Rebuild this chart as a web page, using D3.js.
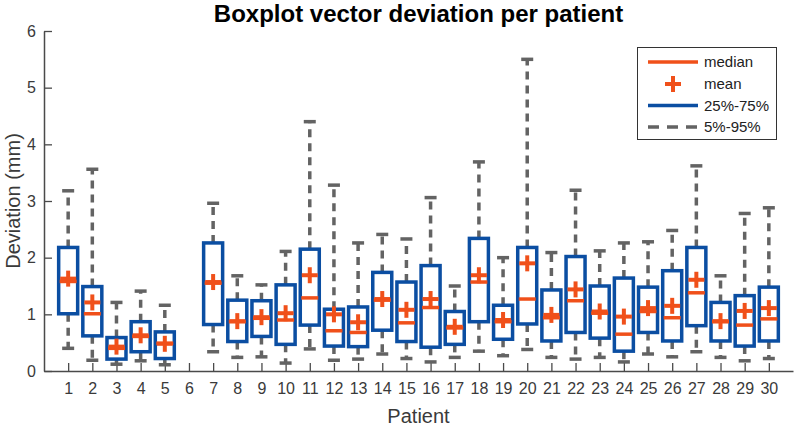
<!DOCTYPE html>
<html>
<head>
<meta charset="utf-8">
<script src="https://cdn.jsdelivr.net/npm/d3@7"></script>
<style>
  html, body { margin: 0; padding: 0; background: #fff; }
  svg { display: block; font-family: "Liberation Sans", Arial, Helvetica, sans-serif; }
</style>
</head>
<body>
<svg id="chart" width="794" height="430"></svg>
<script>
// ---- Data ----
const patients = d3.range(1, 31);
const p5     = [0.40,0.19,0.12,0.18,0.11,null,0.34,0.24,0.25,0.14,0.39,0.19,0.21,0.30,0.22,0.16,0.24,0.35,0.27,0.38,0.24,0.21,0.24,0.16,0.30,0.25,0.34,0.24,0.18,0.22];
const q1     = [1.01,0.62,0.21,0.34,0.22,null,0.82,0.52,0.61,0.47,0.81,0.44,0.43,0.72,0.52,0.42,0.47,0.87,0.56,0.83,0.53,0.68,0.58,0.35,0.68,0.53,0.80,0.53,0.44,0.53];
const median = [1.58,1.01,0.40,0.61,0.49,null,1.55,0.87,0.93,0.90,1.29,0.71,0.68,1.25,0.85,1.12,0.76,1.57,0.87,1.27,0.94,1.24,1.02,0.65,1.05,0.94,1.38,0.87,0.81,0.92];
const mean   = [1.63,1.21,0.43,0.63,0.48,null,1.57,0.88,0.95,1.02,1.69,1.00,0.86,1.27,1.08,1.27,0.78,1.69,0.90,1.90,0.99,1.44,1.05,0.96,1.11,1.15,1.61,0.88,1.06,1.11];
const q3     = [2.18,1.49,0.59,0.87,0.69,null,2.26,1.25,1.24,1.52,2.15,1.09,1.13,1.74,1.57,1.86,1.05,2.34,1.16,2.18,1.43,2.02,1.50,1.64,1.48,1.77,2.18,1.21,1.33,1.48];
const p95    = [3.18,3.56,1.21,1.41,1.16,null,2.96,1.68,1.52,2.11,4.40,3.28,2.26,2.41,2.33,3.06,1.50,3.69,2.00,5.50,2.09,3.19,2.12,2.26,2.28,2.48,3.62,1.68,2.78,2.88];
const yTicks = [0,1,2,3,4,5,6];
const legendLabels = ["median","mean","25%-75%","5%-95%"];
const titleText = "Boxplot vector deviation per patient";
const xLabel = "Patient";
const yLabel = "Deviation (mm)";

// ---- Styles ----
const ORANGE = "#f0501a", BLUE = "#0b4ea2", GRAY = "#636363", AXIS = "#4a4a4a", TXT = "#3a3a3a";

const svg = d3.select("#chart");
const x = d3.scaleLinear().domain([0, 31]).range([44, 793]);
const y = d3.scaleLinear().domain([0, 6]).range([371, 31]);

const rows = patients.map((p, i) => ({p, p5: p5[i], q1: q1[i], med: median[i], mean: mean[i], q3: q3[i], p95: p95[i]}))
  .filter(d => d.med !== null);

const boxHalf = 9.5, capHalf = 6, crossHalf = 8, medHalf = 8.5;

// axes
const xAxis = d3.axisBottom(x).tickValues(patients).tickFormat(d3.format("d")).tickSizeInner(-8).tickSizeOuter(0).tickPadding(12);
const yAxis = d3.axisLeft(y).tickValues(yTicks).tickFormat(d3.format("d")).tickSizeInner(-8).tickSizeOuter(0).tickPadding(8);

const gx = svg.append("g").attr("transform", `translate(0,${y(0)})`).call(xAxis);
const gy = svg.append("g").attr("transform", `translate(${x(0)},0)`).call(yAxis);
[gx, gy].forEach(g => {
  g.select(".domain").attr("stroke", AXIS).attr("stroke-width", 1.5);
  g.selectAll(".tick line").attr("stroke", AXIS).attr("stroke-width", 1.3);
  g.selectAll(".tick text").attr("fill", TXT).style("font-size", "16px").style("font-family", "'Liberation Sans', Arial, sans-serif");
});

const marks = svg.append("g");
// whiskers (dashed)
marks.selectAll(".wup").data(rows).join("line")
  .attr("x1", d => x(d.p)).attr("x2", d => x(d.p))
  .attr("y1", d => y(d.q3)).attr("y2", d => y(d.p95))
  .attr("stroke", GRAY).attr("stroke-width", 3.5).attr("stroke-dasharray", "8,6");
marks.selectAll(".wdn").data(rows).join("line")
  .attr("x1", d => x(d.p)).attr("x2", d => x(d.p))
  .attr("y1", d => y(d.q1)).attr("y2", d => y(d.p5))
  .attr("stroke", GRAY).attr("stroke-width", 3.5).attr("stroke-dasharray", "8,6");
// caps
marks.selectAll(".capU").data(rows).join("line")
  .attr("x1", d => x(d.p) - capHalf).attr("x2", d => x(d.p) + capHalf)
  .attr("y1", d => y(d.p95)).attr("y2", d => y(d.p95))
  .attr("stroke", GRAY).attr("stroke-width", 3.5);
marks.selectAll(".capD").data(rows).join("line")
  .attr("x1", d => x(d.p) - capHalf).attr("x2", d => x(d.p) + capHalf)
  .attr("y1", d => y(d.p5)).attr("y2", d => y(d.p5))
  .attr("stroke", GRAY).attr("stroke-width", 3.5);
// boxes
marks.selectAll(".box").data(rows).join("rect")
  .attr("x", d => x(d.p) - boxHalf).attr("width", boxHalf * 2)
  .attr("y", d => y(d.q3)).attr("height", d => y(d.q1) - y(d.q3))
  .attr("fill", "#fff").attr("stroke", BLUE).attr("stroke-width", 3.5);
// medians
marks.selectAll(".med").data(rows).join("line")
  .attr("x1", d => x(d.p) - medHalf).attr("x2", d => x(d.p) + medHalf)
  .attr("y1", d => y(d.med)).attr("y2", d => y(d.med))
  .attr("stroke", ORANGE).attr("stroke-width", 3.5);
// means (+)
const mg = marks.selectAll(".mean").data(rows).join("g")
  .attr("transform", d => `translate(${x(d.p)},${y(d.mean)})`);
mg.append("line").attr("x1", -crossHalf).attr("x2", crossHalf).attr("y1", 0).attr("y2", 0).attr("stroke", ORANGE).attr("stroke-width", 4);
mg.append("line").attr("x1", 0).attr("x2", 0).attr("y1", -crossHalf).attr("y2", crossHalf).attr("stroke", ORANGE).attr("stroke-width", 4);

// title & labels
svg.append("text").attr("x", (x(0) + x(31)) / 2).attr("y", 22).attr("text-anchor", "middle")
  .style("font-size", "24px").style("font-weight", "bold").attr("fill", "#000").text(titleText);
svg.append("text").attr("x", (x(0) + x(31)) / 2).attr("y", 423).attr("text-anchor", "middle")
  .style("font-size", "20px").attr("fill", TXT).text(xLabel);
svg.append("text").attr("transform", `translate(20,${(y(0) + y(6)) / 2}) rotate(-90)`).attr("text-anchor", "middle")
  .style("font-size", "20px").attr("fill", TXT).text(yLabel);

// legend
const lg = svg.append("g");
lg.append("rect").attr("x", 637.5).attr("y", 47.5).attr("width", 139).attr("height", 92)
  .attr("fill", "#fff").attr("stroke", "#333").attr("stroke-width", 1);
const ly = [62, 84, 105.5, 127];
const lx1 = 648, lx2 = 698, ltx = 704;
lg.append("line").attr("x1", lx1).attr("x2", lx2).attr("y1", ly[0]).attr("y2", ly[0]).attr("stroke", ORANGE).attr("stroke-width", 3.5);
lg.append("line").attr("x1", 673 - crossHalf).attr("x2", 673 + crossHalf).attr("y1", ly[1]).attr("y2", ly[1]).attr("stroke", ORANGE).attr("stroke-width", 4);
lg.append("line").attr("x1", 673).attr("x2", 673).attr("y1", ly[1] - crossHalf).attr("y2", ly[1] + crossHalf).attr("stroke", ORANGE).attr("stroke-width", 4);
lg.append("line").attr("x1", lx1).attr("x2", lx2).attr("y1", ly[2]).attr("y2", ly[2]).attr("stroke", BLUE).attr("stroke-width", 3.5);
lg.append("line").attr("x1", lx1).attr("x2", lx2 + 2).attr("y1", ly[3]).attr("y2", ly[3]).attr("stroke", GRAY).attr("stroke-width", 3.5).attr("stroke-dasharray", "11,8");
lg.selectAll(".lt").data(legendLabels).join("text")
  .attr("x", ltx).attr("y", (d, i) => ly[i]).attr("dy", "0.35em")
  .style("font-size", "15px").attr("fill", "#222").text(d => d);
</script>
</body>
</html>
